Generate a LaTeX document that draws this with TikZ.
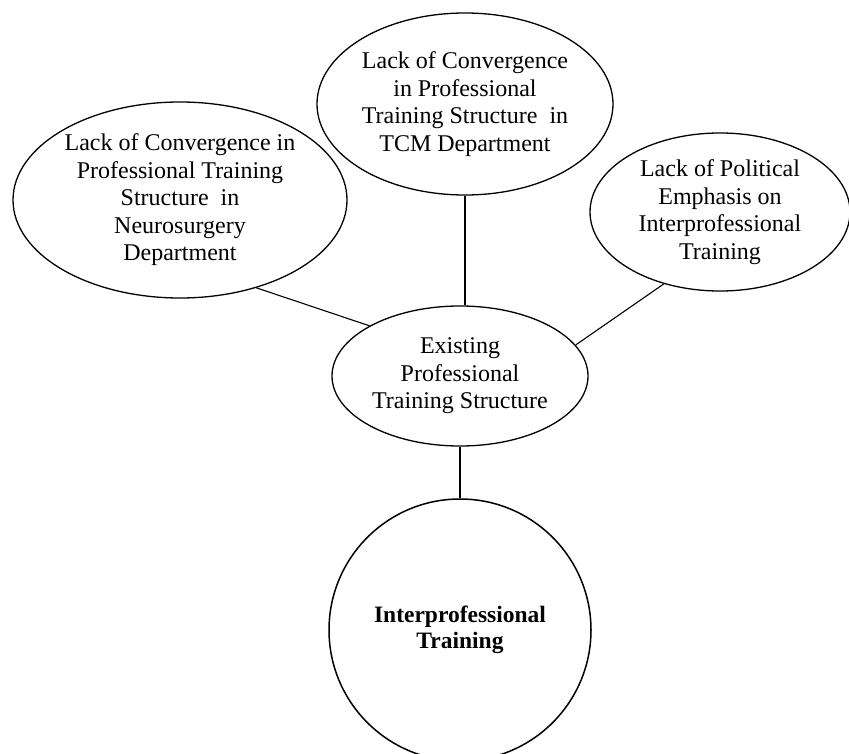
\documentclass[tikz,border=0pt]{standalone}
\usepackage{fontspec}
\setmainfont{Liberation Serif}
\usetikzlibrary{shapes.geometric}
\begin{document}
\begin{tikzpicture}[x=1pt,y=-1pt,
  bubble/.style={ellipse,draw,line width=1.3pt,inner sep=0pt,align=center,
    font=\fontsize{24}{27.5}\selectfont},
  link/.style={line width=1.1pt}]
\useasboundingbox (0,0) rectangle (849,754);
\node[bubble,minimum width=334,minimum height=196] (neuro) at (180,200)
  {Lack of Convergence in\\Professional Training\\Structure\ \ in\\Neurosurgery\\Department};
\node[bubble,minimum width=296,minimum height=182] (tcm) at (465,104)
  {Lack of Convergence\\in Professional\\Training Structure\ \ in\\TCM Department};
\node[bubble,minimum width=260,minimum height=158] (policy) at (720,212)
  {Lack of Political\\Emphasis on\\Interprofessional\\Training};
\node[bubble,minimum width=256,minimum height=140] (exist) at (460,376)
  {Existing\\Professional\\Training Structure};
\node[circle,draw,line width=1.5pt,minimum size=262,inner sep=0pt,align=center,
  font=\bfseries\fontsize{23.5}{26}\selectfont] (ipt) at (460,630)
  {Interprofessional\\Training};
\draw[link] (neuro.-49.6) -- (exist.151);
\draw[link] (policy.232) -- (exist.15.8);
\draw[link] (tcm.south) -- (tcm.south |- exist.north);
\draw[link] (exist.south) -- (ipt.north);
\end{tikzpicture}
\end{document}
